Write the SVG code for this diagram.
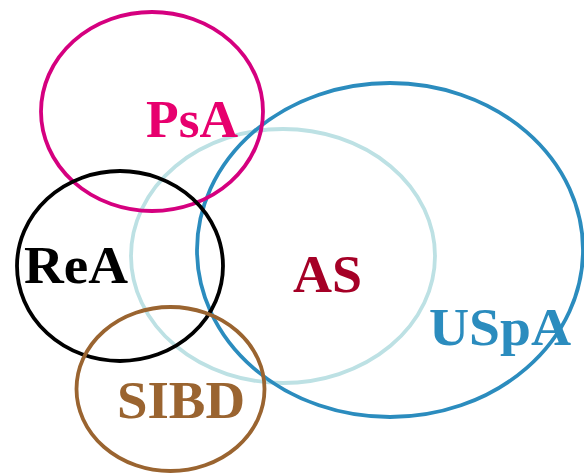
<svg xmlns="http://www.w3.org/2000/svg" width="584" height="475" viewBox="0 0 584 475">
<style>
.e{fill:none;stroke-width:3.8}
.t{font-family:"Liberation Serif","Times New Roman",serif;font-weight:bold;font-size:52px}
</style>
<rect width="584" height="475" fill="#ffffff"/>
<g id="AS">
<ellipse class="e" cx="283" cy="256" rx="152" ry="127" stroke="#bde1e4" stroke-width="4"/>
</g>
<g id="USpA">
<ellipse class="e" cx="390" cy="250" rx="193" ry="167" stroke="#2b8cbe"/>
</g>
<g id="PsA">
<ellipse class="e" cx="152" cy="111.5" rx="111" ry="99.5" stroke="#d5007f"/>
</g>
<g id="ReA">
<ellipse class="e" cx="120" cy="266" rx="103" ry="95" stroke="#000000"/>
</g>
<g id="SIBD">
<ellipse class="e" cx="170.5" cy="389" rx="94" ry="82" stroke="#9a6430"/>
</g>
<g id="labels">
<text class="t" x="146" y="137" fill="#e7006e" textLength="92" lengthAdjust="spacingAndGlyphs">PsA</text>
<text class="t" x="293" y="292" fill="#a50026" textLength="69" lengthAdjust="spacingAndGlyphs">AS</text>
<text class="t" x="24" y="283" fill="#000000" textLength="104" lengthAdjust="spacingAndGlyphs">ReA</text>
<text class="t" x="117" y="418" fill="#9a6430" textLength="128" lengthAdjust="spacingAndGlyphs">SIBD</text>
<text class="t" x="429" y="345" fill="#2b8cbe" textLength="142" lengthAdjust="spacingAndGlyphs">USpA</text>
</g>
</svg>
